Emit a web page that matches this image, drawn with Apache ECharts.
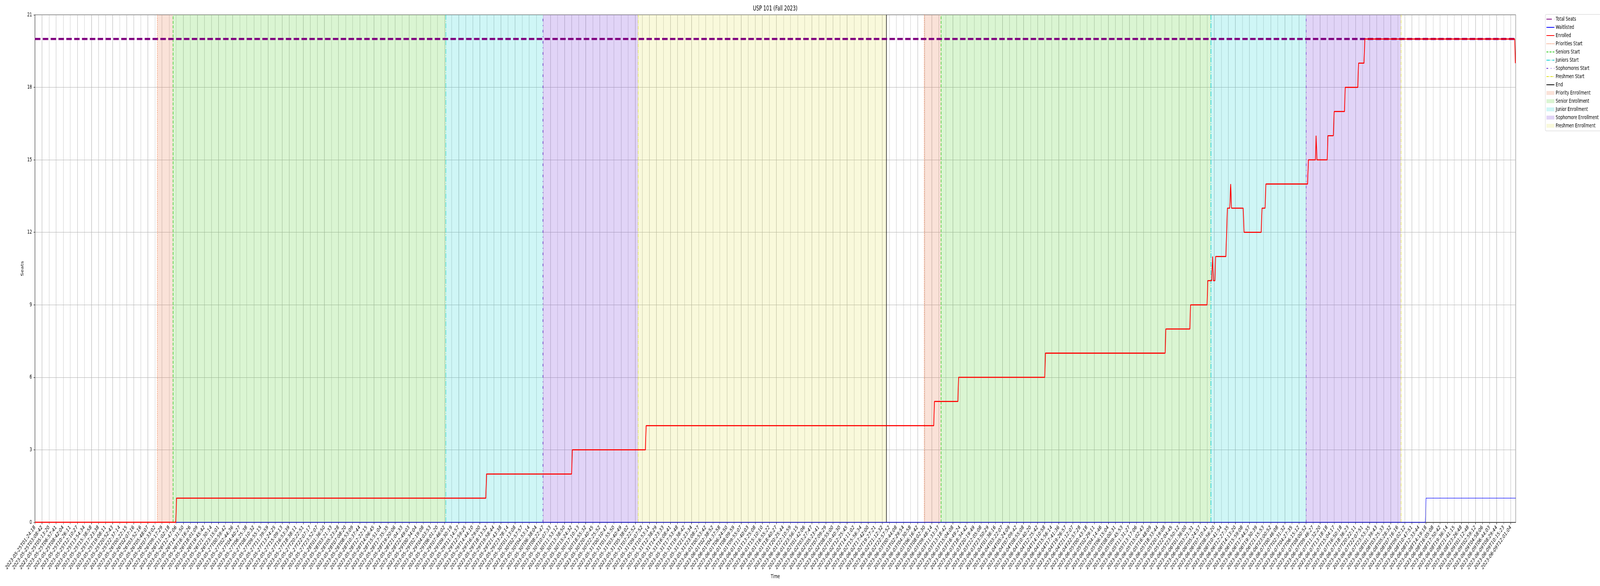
<!DOCTYPE html>
<html>
<head>
<meta charset="utf-8">
<title>USP 101 (Fall 2023)</title>
<script src="https://cdn.jsdelivr.net/npm/echarts@6/dist/echarts.min.js"></script>
<style>
  html, body { margin: 0; padding: 0; background: #fff; overflow: hidden; }
  #wrap { overflow: hidden; position: relative; }
  #chart { width: 6000px; height: 1500px; transform-origin: 0 0; position: absolute; left: 0; top: 0; }
</style>
</head>
<body>
<div id="wrap"><div id="chart"></div></div>
<script>
// tick labels (one per category tick on the x axis)
var tickLabels = [
    '2023-05-25T01:24:18', '2023-05-25T03:08:42', '2023-05-25T05:13:20', '2023-05-25T06:57:41', '2023-05-25T08:42:04', '2023-05-25T10:26:11', '2023-05-25T12:10:27', '2023-05-25T13:54:34', '2023-05-25T15:38:58', '2023-05-25T17:23:38',
    '2023-05-25T19:08:11', '2023-05-25T20:52:43', '2023-05-25T22:37:14', '2023-05-26T00:22:15', '2023-05-26T02:07:16', '2023-05-26T03:52:16', '2023-05-26T05:48:07', '2023-05-26T07:33:02', '2023-05-26T09:17:29', '2023-05-26T11:02:18',
    '2023-05-26T12:47:06', '2023-05-26T14:31:50', '2023-05-26T16:16:26', '2023-05-26T18:01:09', '2023-05-26T19:45:42', '2023-05-26T21:30:14', '2023-05-26T23:15:01', '2023-05-27T00:59:42', '2023-05-27T02:44:36', '2023-05-27T04:40:27',
    '2023-05-27T06:25:38', '2023-05-27T08:10:32', '2023-05-27T09:55:15', '2023-05-27T11:39:59', '2023-05-27T13:24:25', '2023-05-27T15:09:13', '2023-05-27T16:53:39', '2023-05-27T18:38:11', '2023-05-27T20:22:51', '2023-05-27T22:07:17',
    '2023-05-27T23:52:07', '2023-05-28T01:36:50', '2023-05-28T03:21:33', '2023-05-28T05:23:28', '2023-05-28T07:08:20', '2023-05-28T08:53:09', '2023-05-28T10:37:44', '2023-05-28T12:22:15', '2023-05-28T14:06:45', '2023-05-28T15:51:04',
    '2023-05-28T17:35:35', '2023-05-28T19:20:06', '2023-05-28T21:04:33', '2023-05-28T22:49:03', '2023-05-29T00:34:04', '2023-05-29T02:19:08', '2023-05-29T04:03:53', '2023-05-29T06:01:20', '2023-05-29T07:46:02', '2023-05-29T09:30:19',
    '2023-05-29T11:14:57', '2023-05-29T12:59:25', '2023-05-29T14:44:10', '2023-05-29T16:29:00', '2023-05-29T18:13:52', '2023-05-29T19:58:44', '2023-05-29T21:43:38', '2023-05-29T23:28:14', '2023-05-30T01:13:08', '2023-05-30T02:57:57',
    '2023-05-30T04:53:14', '2023-05-30T06:38:04', '2023-05-30T08:22:47', '2023-05-30T10:07:33', '2023-05-30T11:53:12', '2023-05-30T13:38:50', '2023-05-30T15:24:32', '2023-05-30T17:10:13', '2023-05-30T18:55:32', '2023-05-30T20:40:45',
    '2023-05-30T22:25:52', '2023-05-31T00:10:47', '2023-05-31T01:55:50', '2023-05-31T03:40:49', '2023-05-31T05:38:02', '2023-05-31T07:22:52', '2023-05-31T09:07:52', '2023-05-31T10:53:14', '2023-05-31T12:38:29', '2023-05-31T14:23:33',
    '2023-05-31T16:08:41', '2023-05-31T17:53:48', '2023-05-31T19:38:42', '2023-05-31T21:23:34', '2023-05-31T23:08:27', '2023-06-01T00:53:42', '2023-06-01T02:38:52', '2023-06-01T04:37:58', '2023-06-01T06:24:50', '2023-06-01T08:09:59',
    '2023-06-01T09:55:07', '2023-06-01T11:40:03', '2023-06-01T13:25:08', '2023-06-01T15:10:10', '2023-06-01T16:55:22', '2023-06-01T18:40:27', '2023-06-01T20:25:44', '2023-06-01T22:10:59', '2023-06-01T23:56:15', '2023-06-02T01:42:06',
    '2023-06-02T03:27:47', '2023-06-02T05:23:41', '2023-06-02T07:09:29', '2023-06-02T08:55:00', '2023-06-02T10:40:30', '2023-06-02T12:25:45', '2023-06-02T14:11:02', '2023-06-02T15:56:34', '2023-06-02T17:42:00', '2023-06-02T19:27:21',
    '2023-06-02T21:12:32', '2023-06-02T22:57:52', '2023-06-03T00:44:08', '2023-06-03T02:29:54', '2023-06-03T04:30:58', '2023-06-03T06:16:42', '2023-06-03T08:02:30', '2023-06-03T09:48:14', '2023-06-03T11:33:37', '2023-06-03T13:18:42',
    '2023-06-03T15:04:08', '2023-06-03T16:49:24', '2023-06-03T18:34:42', '2023-06-03T20:19:49', '2023-06-03T22:05:08', '2023-06-03T23:50:29', '2023-06-04T01:36:16', '2023-06-04T03:22:07', '2023-06-04T05:24:09', '2023-06-04T07:09:42',
    '2023-06-04T08:55:08', '2023-06-04T10:40:20', '2023-06-04T12:25:42', '2023-06-04T14:10:58', '2023-06-04T15:56:14', '2023-06-04T17:41:36', '2023-06-04T19:26:57', '2023-06-04T21:12:07', '2023-06-04T22:57:28', '2023-06-05T00:43:18',
    '2023-06-05T02:29:11', '2023-06-05T04:14:46', '2023-06-05T06:15:04', '2023-06-05T08:00:31', '2023-06-05T09:45:53', '2023-06-05T11:31:27', '2023-06-05T13:17:06', '2023-06-05T15:02:43', '2023-06-05T16:48:09', '2023-06-05T18:33:44',
    '2023-06-05T20:19:08', '2023-06-05T22:04:45', '2023-06-05T23:50:12', '2023-06-06T01:36:00', '2023-06-06T03:21:31', '2023-06-06T05:24:57', '2023-06-06T07:10:41', '2023-06-06T08:56:20', '2023-06-06T10:41:54', '2023-06-06T12:27:35',
    '2023-06-06T14:13:20', '2023-06-06T15:59:08', '2023-06-06T17:44:57', '2023-06-06T19:30:39', '2023-06-06T21:15:53', '2023-06-06T23:00:52', '2023-06-07T00:46:08', '2023-06-07T02:31:32', '2023-06-07T04:27:35', '2023-06-07T06:15:12',
    '2023-06-07T08:00:52', '2023-06-07T09:46:27', '2023-06-07T11:32:20', '2023-06-07T13:18:18', '2023-06-07T15:04:17', '2023-06-07T16:50:18', '2023-06-07T18:36:23', '2023-06-07T20:22:11', '2023-06-07T22:07:51', '2023-06-07T23:53:35',
    '2023-06-08T01:39:43', '2023-06-08T03:25:33', '2023-06-08T05:28:32', '2023-06-08T07:16:16', '2023-06-08T09:02:12', '2023-06-08T10:47:51', '2023-06-08T12:33:44', '2023-06-08T14:19:18', '2023-06-08T16:05:08', '2023-06-08T17:50:42',
    '2023-06-08T19:36:14', '2023-06-08T21:41:15', '2023-06-08T23:26:48', '2023-06-09T01:12:48', '2023-06-09T02:59:12', '2023-06-09T04:58:06', '2023-06-09T06:44:03', '2023-06-09T08:29:44', '2023-06-09T10:15:23', '2023-06-09T12:01:04'
];

// positions below are in tick units (0 = first tick label)
var xEnd = 209.7;
var totalSeats = 20;

// [position, seats] vertices of the enrolled line
var enrolled = [
    [0, 0], [19.95, 0], [20.05, 1], [63.85, 1], [63.95, 2], [76.0, 2], [76.1, 3],
    [86.45, 3], [86.55, 4], [127.28, 4], [127.38, 5], [130.7, 5], [130.8, 6],
    [143.0, 6], [143.1, 7], [160.05, 7], [160.15, 8], [163.55, 8], [163.65, 9],
    [165.99, 9], [166.09, 10], [166.64, 10], [166.77, 11], [166.89, 10], [167.1, 10], [167.2, 11],
    [168.65, 11], [168.87, 13], [169.2, 13], [169.33, 14], [169.45, 13], [171.1, 13], [171.23, 12],
    [173.65, 12], [173.77, 13], [174.2, 13], [174.32, 14], [180.22, 14], [180.34, 15],
    [181.33, 15], [181.43, 16], [181.55, 15], [183.0, 15], [183.1, 16], [183.87, 16], [183.99, 17],
    [185.45, 17], [185.55, 18], [187.33, 18], [187.44, 19], [188.21, 19], [188.33, 20],
    [209.55, 20], [209.65, 19]
];

var waitlisted = [[0, 0], [196.89, 0], [197.0, 1], [xEnd, 1]];

// phase start marks, one per enrollment round
var priorityStarts = [17.33, 125.94];
var seniorStarts = [19.55, 128.31];
var juniorStarts = [58.2, 166.53];
var sophomoreStarts = [71.94, 180.0];
var freshmenStarts = [85.42, 193.45];
var endMarks = [120.56];

var FONT = 'DejaVu Sans';

function spans(from, to) {
    var out = [];
    for (var i = 0; i < from.length; i++) {
        if (to[i] !== undefined) out.push([{xAxis: from[i]}, {xAxis: to[i]}]);
    }
    return out;
}

function vline(name, marks, color, type, width) {
    var ls = {color: color, type: type, width: width};
    return {
        name: name,
        type: 'line',
        data: [],
        symbol: 'none',
        itemStyle: {color: color},
        lineStyle: ls,
        markLine: {
            silent: true,
            animation: false,
            symbol: ['none', 'none'],
            label: {show: false},
            lineStyle: ls,
            z: 3,
            data: marks.map(function (v) { return {xAxis: v}; })
        }
    };
}

function shade(name, areas, color) {
    return {
        name: name,
        type: 'line',
        data: [],
        symbol: 'none',
        itemStyle: {color: color},
        lineStyle: {color: color},
        markArea: {
            silent: true,
            animation: false,
            itemStyle: {color: color},
            z: 1,
            data: areas
        }
    };
}

// the chart is laid out on a 6000x1500 canvas, then fitted to the window
var wrap = document.getElementById('wrap');
var dom = document.getElementById('chart');
function fit() {
    var w = window.innerWidth || 6000, h = window.innerHeight || 1500;
    wrap.style.width = w + 'px';
    wrap.style.height = h + 'px';
    dom.style.transform = 'scale(' + (w / 6000) + ',' + (h / 1500) + ')';
}
fit();

var myChart = echarts.init(dom, null, {width: 6000, height: 1500, devicePixelRatio: 1});

var series = [
    {
        name: 'Total Seats', type: 'line', symbol: 'none', z: 8,
        itemStyle: {color: '#800080'},
        lineStyle: {color: '#800080', width: 5.5, type: [20.5, 8.9]},
        data: [[0, totalSeats], [xEnd, totalSeats]]
    },
    {
        name: 'Waitlisted', type: 'line', symbol: 'none', z: 9,
        itemStyle: {color: '#0000ff'},
        lineStyle: {color: '#0000ff', width: 1.4},
        data: waitlisted
    },
    {
        name: 'Enrolled', type: 'line', symbol: 'none', z: 10,
        itemStyle: {color: '#ff0000'},
        lineStyle: {color: '#ff0000', width: 2.8},
        data: enrolled
    },
    vline('Priorities Start', priorityStarts, '#ee7640', [2.1, 2.6], 1.8),
    vline('Seniors Start', seniorStarts, '#33cc22', [7.6, 4], 1.8),
    vline('Juniors Start', juniorStarts, '#00ced1', [13, 3.4, 2, 3.4], 1.8),
    vline('Sophomores Start', sophomoreStarts, '#6a2fd0', [6.5, 10, 2, 10], 1.8),
    vline('Freshmen Start', freshmenStarts, '#e0e020', [9, 2.3, 1.6, 2.3], 1.6),
    vline('End', endMarks, '#000000', 'solid', 1.8),
    shade('Priority Enrollment', spans(priorityStarts, seniorStarts), 'rgba(232,112,60,0.2)'),
    shade('Senior Enrollment', spans(seniorStarts, juniorStarts), 'rgba(70,205,30,0.2)'),
    shade('Junior Enrollment', spans(juniorStarts, sophomoreStarts), 'rgba(0,206,209,0.19)'),
    shade('Sophomore Enrollment', spans(sophomoreStarts, freshmenStarts), 'rgba(120,60,220,0.22)'),
    shade('Freshmen Enrollment', spans(freshmenStarts, endMarks), 'rgba(215,215,30,0.16)')
];

// line entries keep only their line in the legend, spans get a filled box
var legendData = series.map(function (s) {
    return s.markArea
        ? {name: s.name, icon: 'rect', itemStyle: {opacity: 1}}
        : {name: s.name, itemStyle: {opacity: 0}};
});

var option = {
    animation: false,
    backgroundColor: '#ffffff',
    title: {
        text: 'USP 101 (Fall 2023)',
        left: 2907,
        top: 14,
        padding: 0,
        textAlign: 'center',
        textStyle: {fontFamily: FONT, fontSize: 17, fontWeight: 'normal', color: '#000'}
    },
    legend: {
        orient: 'vertical',
        left: 5795,
        top: 37,
        itemWidth: 30,
        itemHeight: 10,
        itemGap: 7,
        padding: [5, 8, 6, 3],
        borderColor: '#cccccc',
        borderWidth: 1,
        borderRadius: 3,
        backgroundColor: '#ffffff',
        selectedMode: false,
        textStyle: {fontFamily: FONT, fontSize: 14, color: '#000', lineHeight: 14},
        data: legendData
    },
    grid: {
        left: 131,
        right: 316,
        top: 38,
        bottom: 163,
        show: true,
        borderColor: '#000',
        borderWidth: 1.1,
        backgroundColor: 'transparent'
    },
    xAxis: {
        type: 'value',
        min: 0,
        max: xEnd,
        interval: 1,
        name: 'Time',
        nameLocation: 'middle',
        nameGap: 132,
        nameTextStyle: {fontFamily: FONT, fontSize: 14, color: '#000'},
        axisLine: {show: true, onZero: false, lineStyle: {color: '#000', width: 1.1}},
        axisTick: {show: true, length: 5, lineStyle: {color: '#000', width: 1.1}},
        axisLabel: {
            rotate: 45,
            margin: 11,
            fontFamily: FONT,
            fontSize: 14,
            color: '#000',
            showMaxLabel: false,
            formatter: function (v) {
                var i = Math.round(v);
                return Math.abs(v - i) < 1e-6 && tickLabels[i] ? tickLabels[i] : '';
            }
        },
        splitLine: {show: true, lineStyle: {color: '#b0b0b0', width: 1.1}}
    },
    yAxis: {
        type: 'value',
        min: 0,
        max: 21,
        interval: 3,
        name: 'Seats',
        nameLocation: 'middle',
        nameGap: 36,
        nameTextStyle: {fontFamily: FONT, fontSize: 14, color: '#000'},
        axisLine: {show: true, lineStyle: {color: '#000', width: 1.1}},
        axisTick: {show: true, length: 5, lineStyle: {color: '#000', width: 1.1}},
        axisLabel: {margin: 11, fontFamily: FONT, fontSize: 14, color: '#000'},
        splitLine: {show: true, lineStyle: {color: '#b0b0b0', width: 1.1}}
    },
    series: series
};

myChart.setOption(option);
window.addEventListener('resize', function () {
    fit();
});
</script>
</body>
</html>
